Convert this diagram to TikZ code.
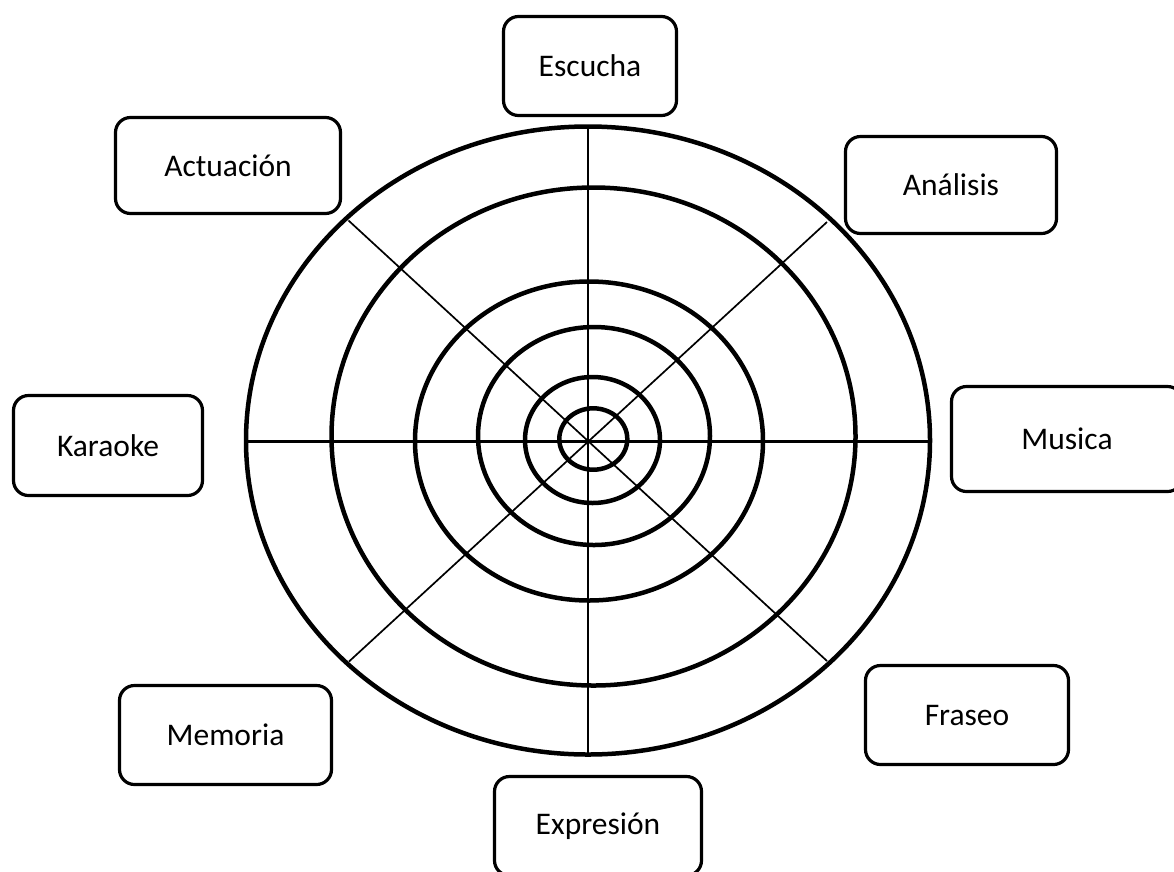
\documentclass[tikz,border=0pt]{standalone}
\usepackage{fontspec}
\setmainfont{Carlito}
\begin{document}
\begin{tikzpicture}[x=1pt,y=-1pt,
  ring/.style={line width=4.5pt},
  spoke/.style={line width=2.2pt},
  diag/.style={line width=1.7pt},
  labelbox/.style={draw, line width=3.2pt, rounded corners=15pt, inner sep=0pt,
    font=\fontsize{31.5}{36}\selectfont, align=center}]
\useasboundingbox (0,0) rectangle (1174,871);
% rings
\draw[ring] (588,440.5) ellipse [x radius=342, y radius=314];
\draw[ring] (593.5,436.5) ellipse [x radius=262, y radius=249];
\draw[ring] (589,441) ellipse [x radius=174, y radius=159.5];
\draw[ring] (594,436) ellipse [x radius=116, y radius=109];
\draw[ring] (592.5,440) ellipse [x radius=67.5, y radius=63];
\draw[ring] (593.3,439) ellipse [x radius=34, y radius=30.7];
% spokes
\coordinate (N) at (588,126);
\coordinate (S) at (588,755);
\coordinate (W) at (246,441.5);
\coordinate (E) at (930,441.5);
\coordinate (NW) at (348.5,220.5);
\coordinate (SE) at (827,661);
\coordinate (NE) at (827,222);
\coordinate (SW) at (349,661.5);
\draw[spoke] (N) -- (S);
\draw[spoke] (W) -- (E);
\draw[diag] (NW) -- (SE);
\draw[diag] (NE) -- (SW);
% boxes
\node[labelbox, minimum width=173, minimum height=99] (escucha) at (590,66) {Escucha};
\node[labelbox, minimum width=225, minimum height=96] (actuacion) at (228,165.5) {Actuación};
\node[labelbox, minimum width=211, minimum height=97] (analisis) at (951,185) {Análisis};
\node[labelbox, minimum width=189, minimum height=100] (karaoke) at (108,445.5) {Karaoke};
\node[labelbox, minimum width=231, minimum height=105] (musica) at (1067,439) {Musica};
\node[labelbox, minimum width=212, minimum height=99] (memoria) at (225.5,735) {Memoria};
\node[labelbox, minimum width=203, minimum height=99] (fraseo) at (967,715) {Fraseo};
\node[labelbox, minimum width=207, minimum height=99] (expresion) at (598,826) {Expresión};
\end{tikzpicture}
\end{document}
